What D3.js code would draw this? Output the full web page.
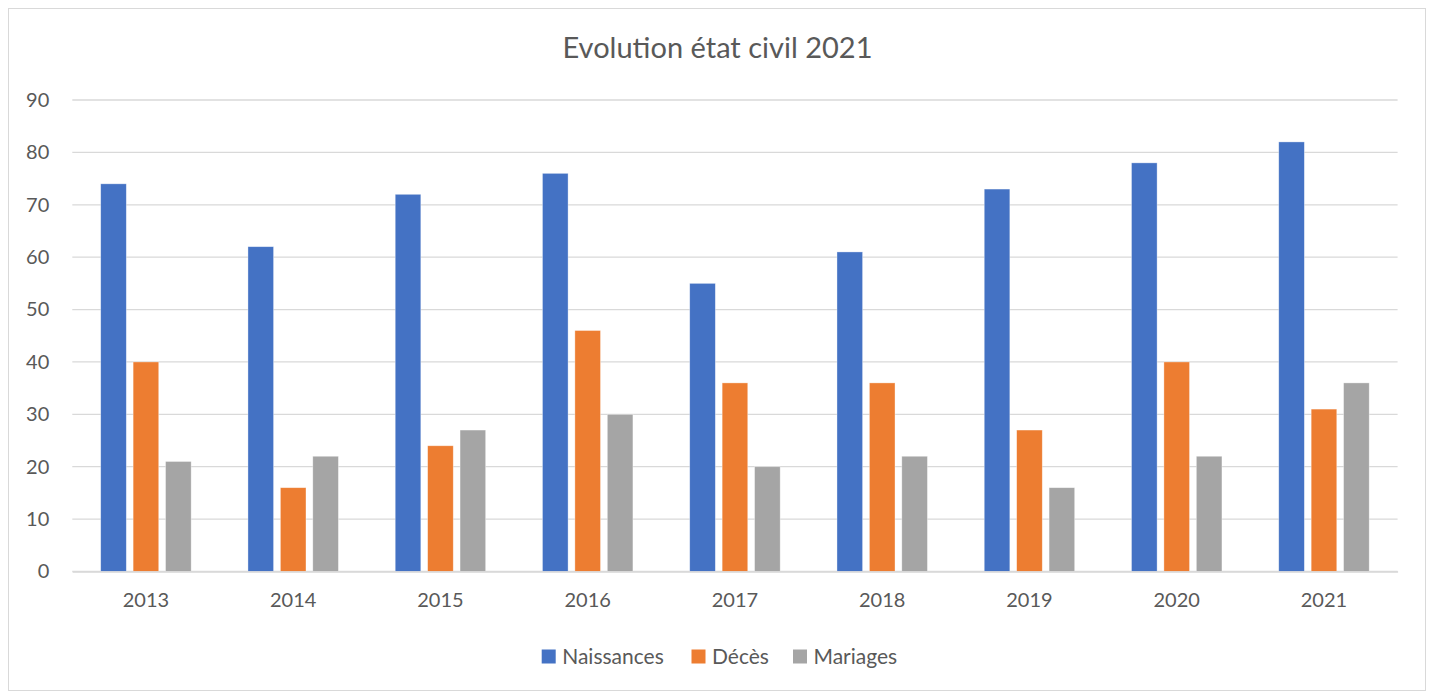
<!DOCTYPE html>
<html><head><meta charset="utf-8">
<script src="https://cdn.jsdelivr.net/npm/d3@7"></script>
<style>body{margin:0;background:#fff;font-family:Lato,"Open Sans",sans-serif;}</style>
</head><body><svg id="c" width="1431" height="693"></svg>
<script>
const years = ["2013","2014","2015","2016","2017","2018","2019","2020","2021"];
const naissances = [74,62,72,76,55,61,73,78,82];
const deces = [40,16,24,46,36,36,27,40,31];
const mariages = [21,22,27,30,20,22,16,22,36];
const seriesNames = ["Naissances","Décès","Mariages"];
const colors = ["#4472C4","#ED7D31","#A5A5A5"];
const yTicks = [0,10,20,30,40,50,60,70,80,90];
const title = "Evolution état civil 2021";

(function(){
const svg = d3.select("#c");
svg.append("rect").attr("x",8.5).attr("y",8.5).attr("width",1417).attr("height",682)
  .attr("fill","#fff").attr("stroke","#d9d9d9");

const pl=72.3, pr=1397.6, pt=100, pb=571.5;
const x = d3.scaleBand().domain(years).range([pl,pr]).paddingInner(0).paddingOuter(0);
const xs = d3.scaleBand().domain(seriesNames).range([28.4, x.bandwidth()-28.4]).paddingInner(0.21);
const y = d3.scaleLinear().domain([0,90]).range([pb,pt]);

svg.append("g").selectAll("line").data(yTicks).join("line")
  .attr("x1",pl).attr("x2",pr).attr("y1",d=>y(d)).attr("y2",d=>y(d))
  .attr("stroke","#d9d9d9").attr("stroke-width",1.3);

const yAxis = svg.append("g").attr("transform",`translate(${pl},0)`)
  .call(d3.axisLeft(y).tickValues(yTicks).tickSize(0).tickPadding(23));
yAxis.select(".domain").remove();
yAxis.selectAll("text").attr("font-family","Lato, sans-serif").attr("font-size",20).attr("fill","#595959");

const data = [naissances,deces,mariages];
seriesNames.forEach((s,i)=>{
  svg.append("g").selectAll("rect").data(years).join("rect")
    .attr("x",d=>x(d)+xs(s)).attr("width",xs.bandwidth())
    .attr("y",(d,j)=>y(data[i][j])).attr("height",(d,j)=>y(0)-y(data[i][j]))
    .attr("fill",colors[i]).attr("stroke","#fff").attr("stroke-opacity",0.5).attr("stroke-width",0.7);
});

const xAxis = svg.append("g").attr("transform",`translate(0,${pb})`)
  .call(d3.axisBottom(x).tickSize(0).tickPadding(21));
xAxis.select(".domain").attr("stroke","#d9d9d9").attr("stroke-width",1.3);
xAxis.selectAll("text").attr("font-family","Lato, sans-serif").attr("font-size",20).attr("fill","#595959");

svg.append("text").attr("x",717.5).attr("y",57.5).attr("text-anchor","middle")
  .attr("font-size",29).attr("fill","#595959").text(title);

const legX=[541.7,691.5,793];
const leg = svg.append("g");
seriesNames.forEach((s,i)=>{
  leg.append("rect").attr("x",legX[i]).attr("y",649.5).attr("width",14).attr("height",14).attr("fill",colors[i]);
  leg.append("text").attr("x",legX[i]+20.5).attr("y",663.5).attr("font-size",21).attr("fill","#595959").text(s);
});
})();
</script></body></html>
